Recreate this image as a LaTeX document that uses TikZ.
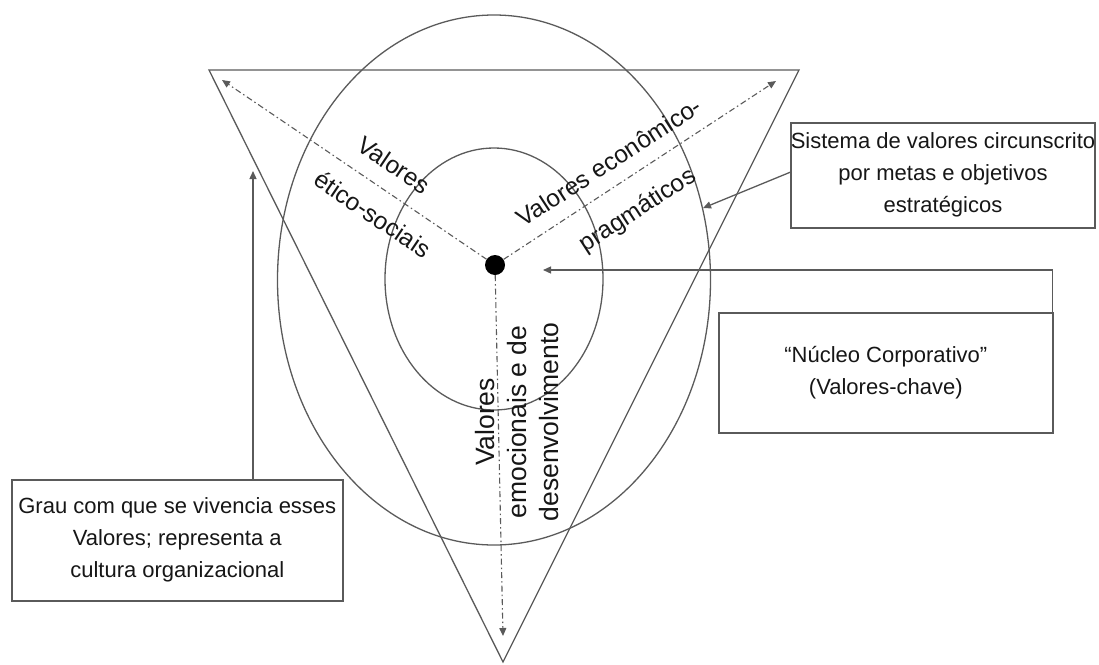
\documentclass[tikz,border=0pt]{standalone}
\usepackage{fontspec}
\setmainfont{Liberation Sans}
\usetikzlibrary{arrows.meta,shapes.geometric}
\definecolor{linegray}{HTML}{5A5A5A}
\definecolor{inkgray}{HTML}{161616}
\begin{document}
\begin{tikzpicture}[x=1pt,y=-1pt,
  outline/.style={draw=linegray,line width=1.3pt},
  textbox/.style={draw=linegray,line width=1.6pt,inner sep=0pt,anchor=north west,
    text=inkgray,align=center,font=\fontsize{22}{32}\selectfont},
  axis/.style={draw=linegray,line width=1.1pt,dash pattern=on 6pt off 3pt on 1.5pt off 3pt,
    -{Triangle[length=8pt,width=7pt]}},
  pointer/.style={draw=linegray,line width=1.3pt,-{Triangle[length=8pt,width=7pt]}},
  lbl/.style={text=inkgray,font=\fontsize{24.5}{32}\selectfont,inner sep=0pt,align=center},
  vlbl/.style={text=inkgray,font=\fontsize{26.5}{32}\selectfont,inner sep=0pt,align=center}]
\useasboundingbox (0,0) rectangle (1099,664);

% triangle and the two circles of values
\coordinate (tl) at (209,70);
\coordinate (tr) at (799,70);
\coordinate (bt) at (503,662);
\draw[outline] (tl) -- (tr) -- (bt) -- cycle;
\node[outline,ellipse,minimum width=433pt,minimum height=530pt,inner sep=0pt] (outer) at (494,280) {};
\node[outline,ellipse,minimum width=218pt,minimum height=262pt,inner sep=0pt] (inner) at (494,279) {};

% core dot and the three value axes
\node[circle,fill=black,minimum size=20pt,inner sep=0pt] (core) at (495,265) {};
\coordinate (endl) at (222,80);
\coordinate (endr) at (776,81);
\coordinate (endb) at (503,636);
\draw[axis] (core) -- (endl);
\draw[axis] (core) -- (endr);
\draw[axis] (core) -- (endb);

% axis labels
\node[lbl,rotate=-34] (etA) at (394,165) {Valores};
\node[lbl,rotate=-34] (etB) at (373,214) {ético-sociais};
\node[lbl,rotate=33] (ecA) at (609,162) {Valores econômico-};
\node[lbl,rotate=33] (ecB) at (638,211) {pragmáticos};
\node[vlbl,rotate=90] (em) at (517,422) {Valores\\emocionais e de\\desenvolvimento};

% explanatory boxes
\node[textbox,minimum width=302pt,minimum height=105pt] (sis) at (790,122)
  {Sistema de valores circunscrito\\por metas e objetivos\\estratégicos};
\node[textbox,minimum width=334pt,minimum height=120pt] (nuc) at (718,312)
  {“Núcleo Corporativo”\\(Valores-chave)};
\node[textbox,minimum width=331pt,minimum height=121pt] (grau) at (11,479)
  {Grau com que se vivencia esses\\Valores; representa a\\cultura organizacional};

% pointers from the boxes
\coordinate (nucpt) at (543,270);
\coordinate (graupt) at (253,171);
\draw[pointer] ([yshift=3pt]sis.west) -- (outer.19);
\draw[pointer] ([xshift=-1pt]nuc.north east) -- ++(0,-42) -- (nucpt);
\draw[pointer] (grau.north -| graupt) -- (graupt);
\end{tikzpicture}
\end{document}
